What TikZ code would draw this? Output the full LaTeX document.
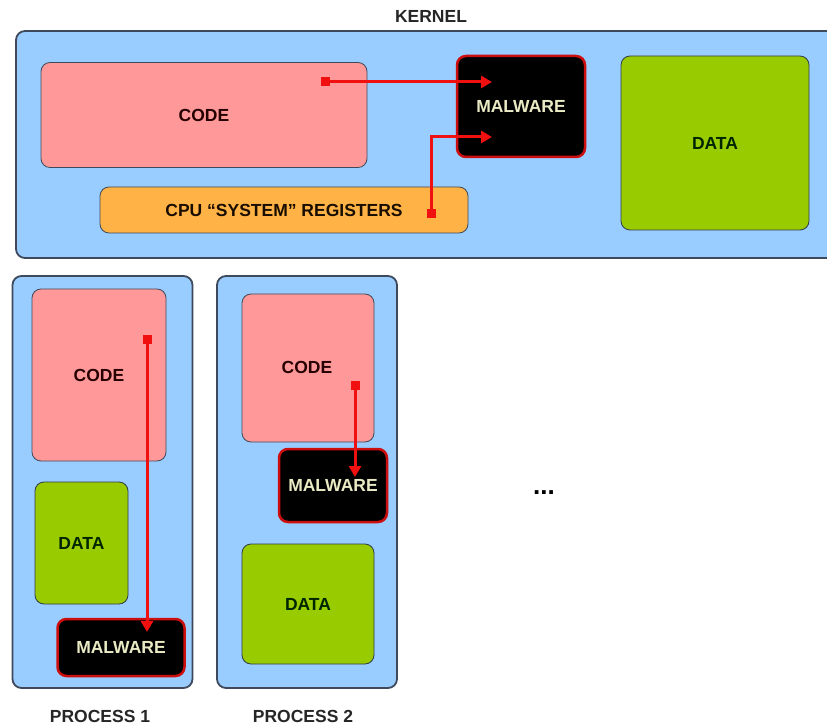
\documentclass[tikz,border=0pt]{standalone}
\usepackage{fontspec}
\setmainfont{Liberation Sans}
\usetikzlibrary{arrows.meta}
\definecolor{boxblue}{HTML}{99CCFF}
\definecolor{codepink}{HTML}{FF9999}
\definecolor{datagreen}{HTML}{99CC00}
\definecolor{regorange}{HTML}{FFB347}
\definecolor{edgegray}{HTML}{3E4A5C}
\definecolor{maltext}{HTML}{EAEAC4}
\definecolor{arrred}{HTML}{F01010}
\begin{document}
\begin{tikzpicture}[x=1pt,y=-1pt,font=\bfseries\fontsize{17.5}{20}\selectfont,
	area/.style={draw=edgegray,line width=1.8pt,rounded corners=9pt,fill=boxblue,inner sep=0pt},
	codebox/.style={draw=edgegray,line width=0.8pt,rounded corners=9pt,fill=codepink,text=black!75!red!60!black,inner sep=0pt},
	databox/.style={draw=edgegray!80!black,line width=0.8pt,rounded corners=9pt,fill=datagreen,text=black!85!green,inner sep=0pt},
	regbox/.style={draw=edgegray,line width=0.8pt,rounded corners=9pt,fill=regorange,text=black!90!orange,inner sep=0pt},
	malbox/.style={draw=arrred!85!black,line width=2.5pt,rounded corners=9pt,fill=black,text=maltext,inner sep=0pt},
	src/.style={fill=arrred,inner sep=0pt,minimum size=9pt},
	flow/.style={draw=arrred,line width=3pt,-{Triangle[length=11pt,width=12pt]}},
	lbl/.style={text=black!85}]
\useasboundingbox (0,0) rectangle (827,727);
\fill[white] (0,0) rectangle (827,727);
% kernel
\node[lbl] (kernel) at (431,16) {KERNEL};
\node[area,minimum width=824pt,minimum height=227pt] (kbox) at (428,144.5) {};
\node[codebox,minimum width=326pt,minimum height=105pt] (kcode) at (204,115) {CODE};
\node[malbox,minimum width=128pt,minimum height=101pt] (kmal) at (521,106.5) {MALWARE};
\node[databox,minimum width=188pt,minimum height=174pt] (kdata) at (715,143) {DATA};
\node[regbox,minimum width=368pt,minimum height=46pt] (kreg) at (284,210) {CPU ``SYSTEM'' REGISTERS};
\node[src] (kcsrc) at (325,82) {};
\node[src] (krsrc) at (431,214) {};
\coordinate (kmalA) at (492,82);
\coordinate (kmalB) at (492,137);
\draw[flow] (kcsrc.center) -- (kmalA);
\draw[flow] (krsrc.center) |- (kmalB);
% process 1
\node[area,minimum width=180pt,minimum height=412pt] (pone) at (102.5,482) {};
\node[codebox,minimum width=134pt,minimum height=172pt] (pcode) at (99,375) {CODE};
\node[databox,minimum width=93pt,minimum height=122pt] (pdata) at (81.5,543) {DATA};
\node[malbox,minimum width=127pt,minimum height=57pt] (pmal) at (121,647.5) {MALWARE};
\node[src] (pcsrc) at (147,339) {};
\coordinate (pmalA) at (147,632);
\draw[flow] (pcsrc.center) -- (pmalA);
\node[lbl] (ponelbl) at (100,716) {PROCESS 1};
% process 2
\node[area,minimum width=180pt,minimum height=412pt] (ptwo) at (307,482) {};
\node[codebox,minimum width=132pt,minimum height=148pt] (qcode) at (308,368) {};
\node[text=black!75!red!60!black] (qcodelbl) at (307,367) {CODE};
\node[malbox,minimum width=108pt,minimum height=73pt] (qmal) at (333,485.5) {MALWARE};
\node[databox,minimum width=132pt,minimum height=120pt] (qdata) at (308,604) {DATA};
\node[src] (qcsrc) at (355,385) {};
\coordinate (qmalA) at (355,477);
\draw[flow] (qcsrc.center) -- (qmalA);
\node[lbl] (ptwolbl) at (303,716) {PROCESS 2};
\node[font=\bfseries\fontsize{26}{28}\selectfont] (more) at (544,493) {...};
\end{tikzpicture}
\end{document}
